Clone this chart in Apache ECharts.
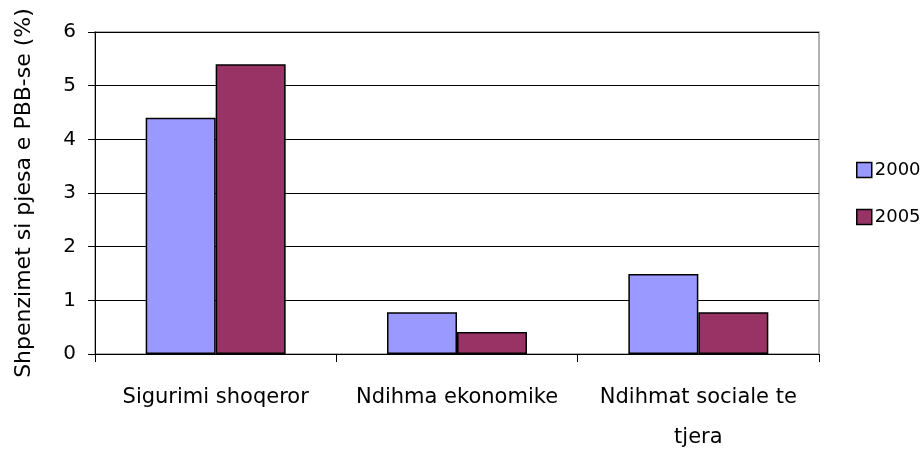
<!DOCTYPE html>
<html>
<head>
<meta charset="utf-8">
<script src="https://cdn.jsdelivr.net/npm/echarts@6/dist/echarts.min.js"></script>
<style>
  html, body { margin: 0; padding: 0; background: #fff; }
  #chart { width: 924px; height: 450px; }
</style>
</head>
<body>
<div id="chart"></div>
<script>
// kategorite dhe vlerat (% e PBB-se)
var categories = ['Sigurimi shoqeror', 'Ndihma ekonomike', 'Ndihmat sociale te\ntjera'];
var seriesNames = ['2000', '2005'];
var values2000 = [4.4, 0.78, 1.49];
var values2005 = [5.4, 0.41, 0.78];
var yTicks = [0, 1, 2, 3, 4, 5, 6];

var colors = ['#9999ff', '#993366'];
var font = 'DejaVu Sans';

var myChart = echarts.init(document.getElementById('chart'));

var option = {
    animation: false,
    textStyle: { fontFamily: font },
    grid: { left: 95, right: 105, top: 32, bottom: 96, containLabel: false,
            outerBoundsMode: 'none',
            show: true, borderColor: '#999', borderWidth: 1.5 },
    legend: {
        orient: 'vertical',
        left: 851,
        top: 156,
        itemWidth: 15,
        itemHeight: 15,
        itemGap: 29,
        icon: 'rect',
        data: seriesNames,
        itemStyle: { borderColor: '#000', borderWidth: 1.5 },
        textStyle: { fontSize: 18, color: '#000', fontFamily: font, padding: [0, 0, 0, -2] }
    },
    xAxis: {
        type: 'category',
        data: categories,
        axisLine: { lineStyle: { color: '#000', width: 1 } },
        axisTick: { show: true, length: 8, lineStyle: { color: '#000' } },
        axisLabel: { interval: 0, fontSize: 21, color: '#000', margin: 24, lineHeight: 40, fontFamily: font }
    },
    yAxis: {
        type: 'value',
        min: yTicks[0],
        max: yTicks[yTicks.length - 1],
        interval: 1,
        name: 'Shpenzimet si pjesa e PBB-se (%)',
        nameLocation: 'middle',
        nameGap: 60,
        nameTextStyle: { fontSize: 22, color: '#000', fontFamily: font },
        axisLine: { show: true, lineStyle: { color: '#000', width: 1 } },
        axisTick: { show: true, length: 7, lineStyle: { color: '#000' } },
        axisLabel: { fontSize: 20, color: '#000', margin: 19, fontFamily: font },
        splitLine: { lineStyle: { color: '#000', width: 1 } }
    },
    series: [
        {
            name: seriesNames[0],
            type: 'bar',
            data: values2000,
            barGap: '0%',
            barCategoryGap: '42%',
            itemStyle: { color: colors[0], borderColor: '#000', borderWidth: 1.5 }
        },
        {
            name: seriesNames[1],
            type: 'bar',
            data: values2005,
            itemStyle: { color: colors[1], borderColor: '#000', borderWidth: 1.5 }
        }
    ]
};

myChart.setOption(option);
</script>
</body>
</html>
